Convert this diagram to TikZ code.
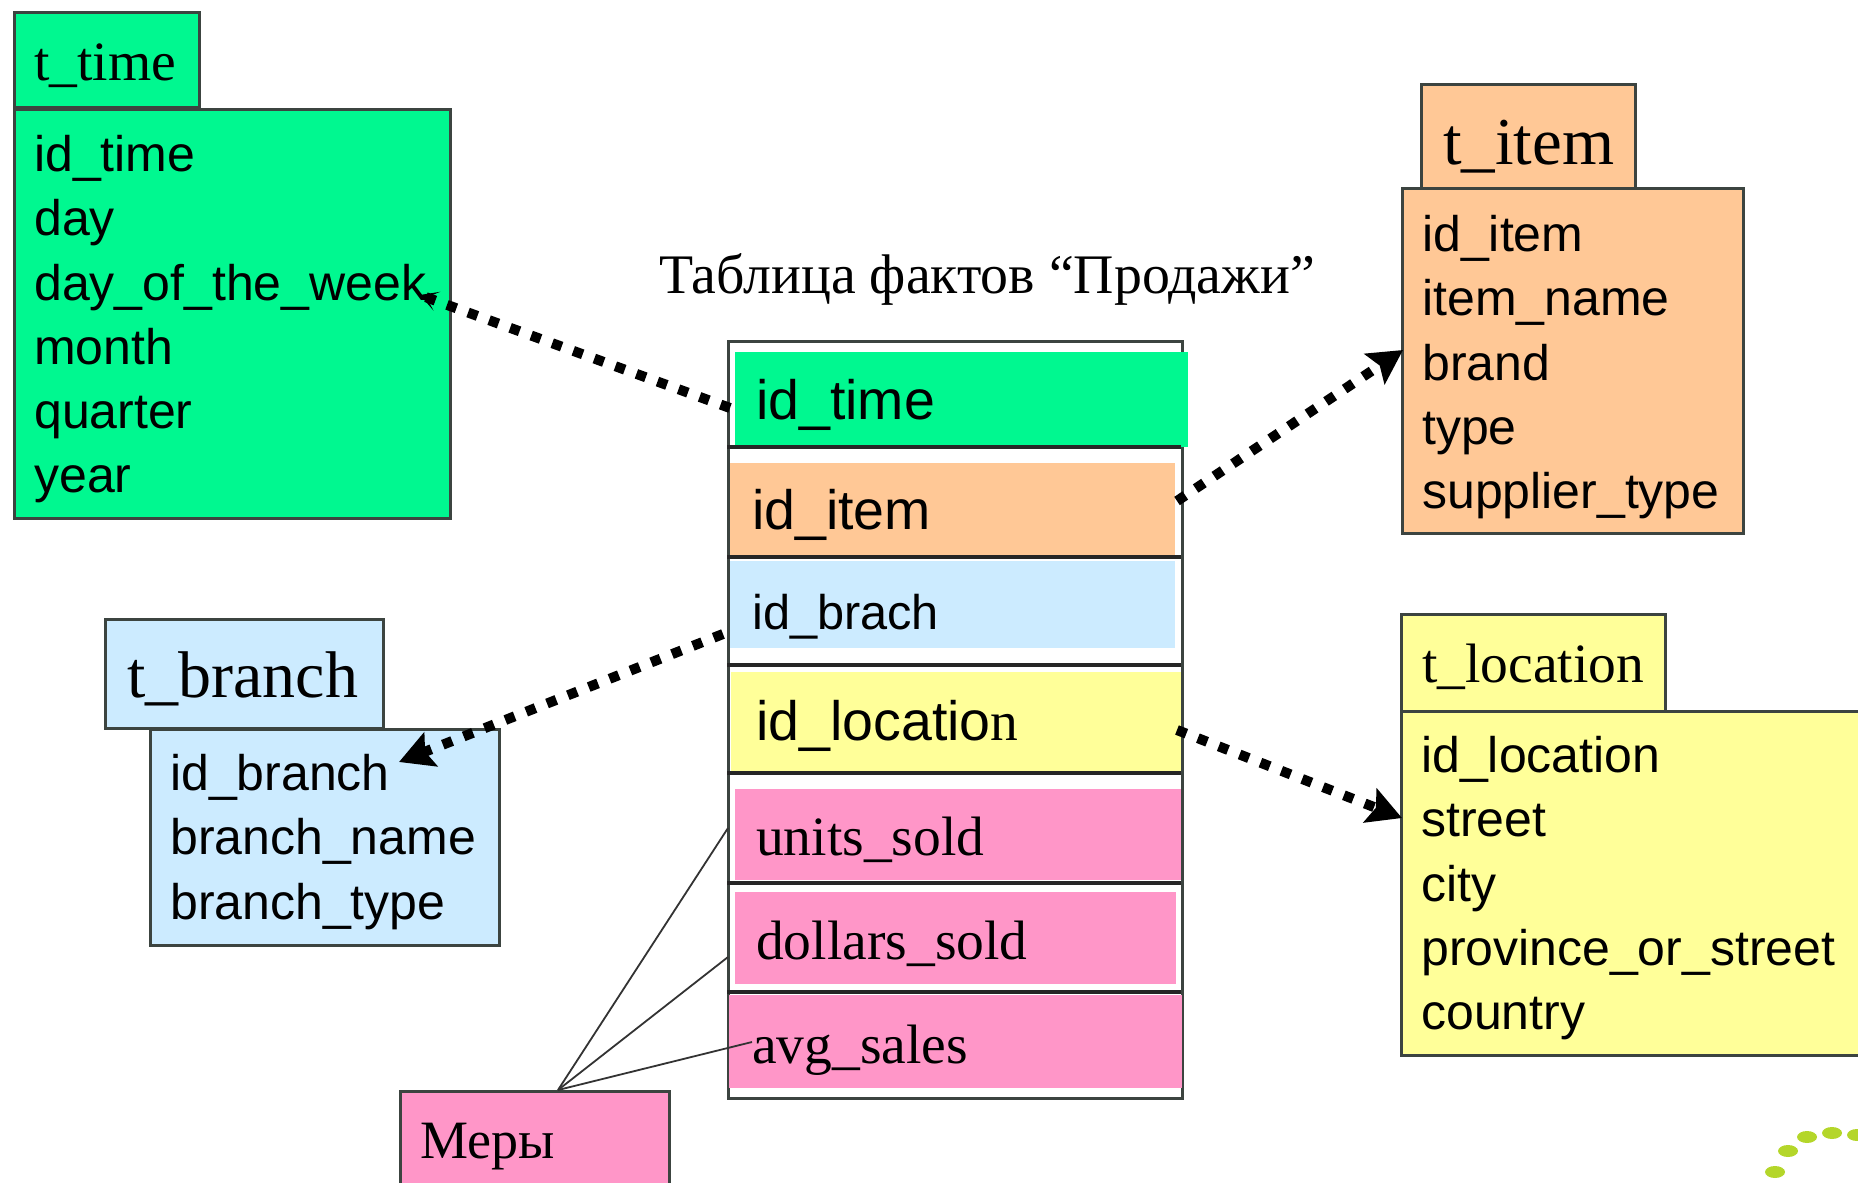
\documentclass[tikz,border=0pt]{standalone}
\usepackage{fontspec}
\setmainfont{Liberation Serif}
\setsansfont{Liberation Sans}
\usetikzlibrary{arrows.meta}
\definecolor{edgegray}{HTML}{3C4440}
\definecolor{timegreen}{HTML}{00F890}
\definecolor{itemorange}{HTML}{FFC896}
\definecolor{branchblue}{HTML}{CCEBFF}
\definecolor{placeyellow}{HTML}{FFFF99}
\definecolor{measurepink}{HTML}{FF96C8}
\definecolor{logogreen}{HTML}{B4D62A}
\tikzset{
  boxsize/.style 2 args={minimum width=#1pt,minimum height=#2pt},
  tablebox/.style={draw=edgegray,line width=2.5pt,anchor=north west,inner sep=0pt},
  rowfill/.style={anchor=north west,inner sep=0pt},
  sanslist/.style={anchor=north west,inner sep=0pt,align=left,font=\fontsize{50}{64.3}\selectfont\sffamily},
  sanscell/.style={anchor=base west,inner sep=0pt,font=\fontsize{#1}{60}\selectfont\sffamily},
  serifcell/.style={anchor=base west,inner sep=0pt,font=\fontsize{#1}{60}\selectfont},
  rule/.style={draw=black!85,line width=3.5pt},
  dotlink/.style={line width=10pt,dash pattern=on 10pt off 12.4pt},
  bigtip/.style={-{Stealth[length=34pt,width=36pt,inset=6pt]}},
  smalltip/.style={-{Stealth[length=18pt,width=20pt,inset=11pt]}},
  thinlink/.style={draw=black!80,line width=1.8pt}
}
\begin{document}
\begin{tikzpicture}[x=1pt,y=-1pt]
      \useasboundingbox (0,0) rectangle (1858,1183);
      % t_time
      \draw
        (13,11) node[tablebox,boxsize={185}{95},fill=timegreen] (timehead){}
        (13,108) node[tablebox,boxsize={436}{409},fill=timegreen] (timebody){}
        (34,80) node[serifcell=55.5] (timetitle){t\_time}
        (34,135) node[sanslist] (timelist){id\_time\\day\\day\_of\_the\_week\\month\\quarter\\year};
      % t_item
      \draw
        (1420,83) node[tablebox,boxsize={214}{108},fill=itemorange] (itemhead){}
        (1401,187) node[tablebox,boxsize={341}{345},fill=itemorange] (itembody){}
        (1443,164) node[serifcell=67] (itemtitle){t\_item}
        (1422,215) node[sanslist] (itemlist){id\_item\\item\_name\\brand\\type\\supplier\_type};
      % t_branch
      \draw
        (104,618) node[tablebox,boxsize={278}{109},fill=branchblue] (branchhead){}
        (149,728) node[tablebox,boxsize={349}{216},fill=branchblue] (branchbody){}
        (127,697) node[serifcell=66] (branchtitle){t\_branch}
        (170,754) node[sanslist] (branchlist){id\_branch\\branch\_name\\branch\_type};
      % t_location
      \draw
        (1400,613) node[tablebox,boxsize={264}{97},fill=placeyellow] (placehead){}
        (1400,710) node[tablebox,boxsize={460}{344},fill=placeyellow] (placebody){}
        (1422,682) node[serifcell=55.5] (placetitle){t\_location}
        (1421,736) node[sanslist] (placelist){id\_location\\street\\city\\province\_or\_street\\country};
      % fact table
      \draw (659,293) node[serifcell=55.8] (facttitle){Таблица фактов “Продажи”};
      \draw
        (727,340) node[tablebox,boxsize={454}{757}] (facttable){}
        (735,352) node[rowfill,boxsize={453}{95},fill=timegreen] (rowtime){}
        (730,463) node[rowfill,boxsize={445}{94},fill=itemorange] (rowitem){}
        (730,561) node[rowfill,boxsize={445}{87},fill=branchblue] (rowbranch){}
        (731,672) node[rowfill,boxsize={450}{101},fill=placeyellow] (rowplace){}
        (735,789) node[rowfill,boxsize={446}{91},fill=measurepink] (rowunits){}
        (735,892) node[rowfill,boxsize={441}{92},fill=measurepink] (rowdollars){}
        (729,995) node[rowfill,boxsize={453}{93},fill=measurepink] (rowavg){};
      \draw[rule] (727,447) -- (1181,447);
      \draw[rule] (727,557) -- (1181,557);
      \draw[rule] (727,665) -- (1181,665);
      \draw[rule] (727,773) -- (1181,773);
      \draw[rule] (727,883) -- (1181,883);
      \draw[rule] (727,992) -- (1181,992);
      \draw
        (756,419) node[sanscell=55.5] (celltime){id\_time}
        (752,529) node[sanscell=55.5] (cellitem){id\_item}
        (752,629) node[sanscell=48.7] (cellbranch){id\_brach}
        (756,740) node[sanscell=55.5] (cellplace){id\_locatio{\rmfamily n}}
        (756,855) node[serifcell=55.5] (cellunits){units\_sold}
        (756,959) node[serifcell=55.5] (celldollars){dollars\_sold}
        (752,1063) node[serifcell=55.5] (cellavg){avg\_sales};
      % measures
      \draw
        (399,1090) node[tablebox,boxsize={269}{110},fill=measurepink] (measurebox){}
        (420,1158) node[serifcell=54] (measuretext){Меры};
      % logo corner
      \foreach \dotx/\doty in {1775/1172,1788/1151,1807/1137,1832/1133,1857/1135}
        \fill[logogreen] (\dotx,\doty) ellipse (10pt and 6pt);
      % links
      \coordinate (timefrom) at (730,408);
      \coordinate (timeto) at (420,295);
      \coordinate (itemfrom) at (1177,501);
      \coordinate (itemto) at (1403,350);
      \coordinate (branchfrom) at (723,634);
      \coordinate (branchto) at (399,762);
      \coordinate (placefrom) at (1177,730);
      \coordinate (placeto) at (1402,818);
      \coordinate (measurefrom) at (558,1090);
      \coordinate (unitsto) at (728,828);
      \coordinate (dollarsto) at (728,957);
      \coordinate (avgto) at (752,1042);
      \begin{scope}[thinlink]
        \draw (measurefrom) to (unitsto);
        \draw (measurefrom) to (dollarsto);
        \draw (measurefrom) to (avgto);
      \end{scope}
      \begin{scope}[dotlink]
        \draw[smalltip] (timefrom) to (timeto);
        \draw[bigtip] (itemfrom) to (itemto);
        \draw[bigtip] (branchfrom) to (branchto);
        \draw[bigtip] (placefrom) to (placeto);
      \end{scope}
    \end{tikzpicture}
\end{document}
